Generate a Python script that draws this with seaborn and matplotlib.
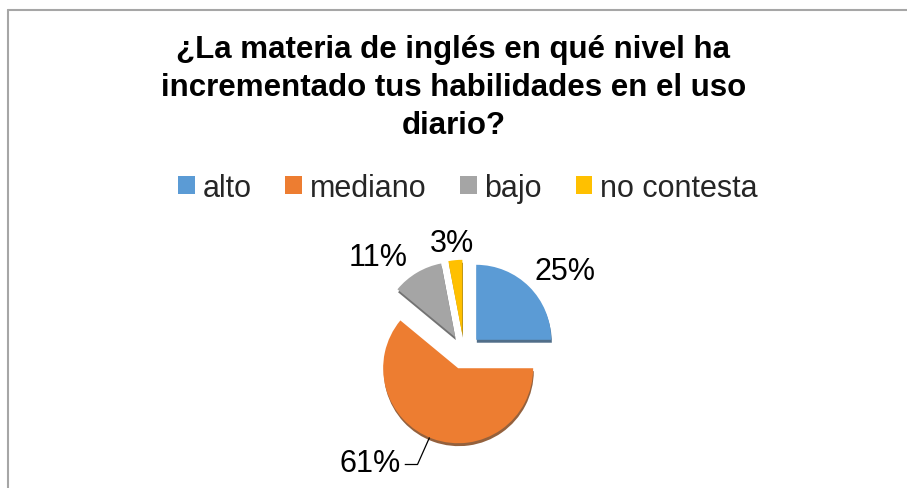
import numpy as np
import matplotlib
matplotlib.use("Agg")
import matplotlib.pyplot as plt
import seaborn as sns
from matplotlib.lines import Line2D

# Datos
categorias = ["alto", "mediano", "bajo", "no contesta"]
porcentajes = [25, 61, 11, 3]
etiquetas = ["25%", "61%", "11%", "3%"]
colores = ["#5B9BD5", "#ED7D31", "#A5A5A5", "#FFC000"]
titulo = "¿La materia de inglés en qué nivel ha\nincrementado tus habilidades en el uso\ndiario?"

sns.set_theme(style="white")
plt.rcParams["font.family"] = ["Liberation Sans", "DejaVu Sans"]

W, H = 907, 489
fig = plt.figure(figsize=(W / 100, H / 100), dpi=100)

# marco del gráfico (solo se ven el borde superior e izquierdo)
fig.add_artist(Line2D([8 / W, 1], [1 - 11 / H, 1 - 11 / H], transform=fig.transFigure,
                      color="#a6a6a6", lw=1.5))
fig.add_artist(Line2D([8 / W, 8 / W], [0, 1 - 11 / H], transform=fig.transFigure,
                      color="#a6a6a6", lw=1.5))

# ejes del pastel: centro en (464, 353) px, radio 75 px
R = 75
cx, cy = 464, 353
lim = 1.75
ax = fig.add_axes([(cx - lim * R) / W, (H - cy - lim * R) / H, 2 * lim * R / W, 2 * lim * R / H])
wedges, _ = ax.pie(porcentajes, colors=colores, startangle=90, counterclock=False,
                   explode=[0.23] * 4, radius=1,
                   shadow={"ox": 0.006, "oy": -0.028, "shade": 0.45, "alpha": 0.85},
                   wedgeprops=dict(linewidth=0))
ax.set_xlim(-lim, lim)
ax.set_ylim(-lim, lim)
ax.set_aspect("equal")
ax.axis("off")

# etiquetas de porcentaje
pos_etiquetas = [(1.35, 1.08), (-1.25, -1.48), (-1.14, 1.27), (-0.16, 1.45)]
for txt, (x, y) in zip(etiquetas, pos_etiquetas):
    ax.text(x, y, txt, ha="center", va="center", fontsize=22, color="#000000")

# línea guía de 61%
ax.plot([-0.79, -0.62, -0.46], [-1.50, -1.50, -1.14], color="#000000", lw=0.9,
        solid_capstyle="butt")

fig.text(0.5, 1 - 88 / H, titulo, ha="center", va="center", fontsize=22.5,
         fontweight="bold", linespacing=1.33, color="#000000")

fig.legend(wedges, categorias, loc="center", bbox_to_anchor=(468 / W, 1 - 189 / H),
           ncol=4, frameon=False, fontsize=22, handlelength=0.55, handleheight=0.55,
           handletextpad=0.25, columnspacing=1.1, borderaxespad=0)

fig.savefig("out.png", dpi=100, facecolor="white")
